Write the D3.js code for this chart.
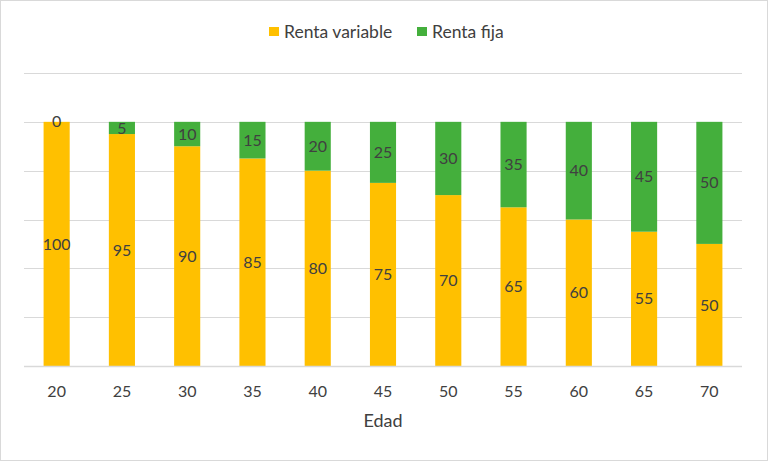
<!DOCTYPE html>
<html><head><meta charset="utf-8">
<script src="https://cdn.jsdelivr.net/npm/d3@7"></script>
<style>
html,body{margin:0;padding:0;background:#fff;}
svg{display:block;}
text{font-family:Lato,"Open Sans",sans-serif;fill:#404040;}
</style></head>
<body>
<script>
const categories = ["20","25","30","35","40","45","50","55","60","65","70"];
const rentaVariable = [100,95,90,85,80,75,70,65,60,55,50];
const rentaFija = [0,5,10,15,20,25,30,35,40,45,50];
const seriesNames = ["Renta variable","Renta fija"];
const seriesColors = ["#FFC000","#44AF3C"];
const yTicks = [0,20,40,60,80,100,120];
const xTitle = "Edad";

const W = 768, H = 461;
const svg = d3.select("body").append("svg").attr("width", W).attr("height", H);
svg.append("rect").attr("x",0.5).attr("y",0.5).attr("width",W-1).attr("height",H-1)
  .attr("fill","#fff").attr("stroke","#d9d9d9").attr("stroke-width",1);

const m = {left:24, right:26, top:73, bottom:95};
const x = d3.scaleBand().domain(categories).range([m.left, W-m.right]).paddingInner(0.6).paddingOuter(0.3);
const y = d3.scaleLinear().domain([0,120]).range([H-m.bottom, m.top]);

// gridlines
svg.append("g").selectAll("line").data(yTicks).join("line")
  .attr("x1", m.left).attr("x2", W-m.right)
  .attr("y1", d=>Math.round(y(d))+0.5).attr("y2", d=>Math.round(y(d))+0.5)
  .attr("stroke","#d9d9d9").attr("stroke-width",1);

const data = categories.map((c,i)=>({cat:c, v:rentaVariable[i], f:rentaFija[i]}));
const stack = d3.stack().keys(["v","f"])(data);

const g = svg.append("g");
stack.forEach((layer, li)=>{
  g.append("g").selectAll("rect").data(layer).join("rect")
    .attr("x", d=>x(d.data.cat)).attr("width", x.bandwidth())
    .attr("y", d=>y(d[1])).attr("height", d=>y(d[0])-y(d[1]))
    .attr("fill", seriesColors[li]);
});
// labels
stack.forEach((layer, li)=>{
  g.append("g").selectAll("text").data(layer).join("text")
    .attr("x", d=>x(d.data.cat)+x.bandwidth()/2)
    .attr("y", d=>(y(d[0])+y(d[1]))/2)
    .attr("dy","0.35em").attr("text-anchor","middle")
    .attr("font-size",16)
    .text(d=>d[1]-d[0]);
});

// x axis
const xAxis = d3.axisBottom(x).tickSize(0).tickPadding(20);
const ax = svg.append("g").attr("transform",`translate(0,${y(0)})`).call(xAxis);
ax.select(".domain").remove();
ax.selectAll("text").attr("font-size",16).attr("fill","#404040").style("font-family","Lato,'Open Sans',sans-serif");
svg.append("line").attr("x1",m.left).attr("x2",W-m.right)
  .attr("y1",Math.round(y(0))+0.5).attr("y2",Math.round(y(0))+0.5).attr("stroke","#d9d9d9").attr("stroke-width",1.5);

svg.append("text").attr("x",(m.left+W-m.right)/2).attr("y",427).attr("text-anchor","middle")
  .attr("font-size",18).text(xTitle);

// legend
const leg = svg.append("g");
const legX = [269, 417];
seriesNames.forEach((n,i)=>{
  leg.append("rect").attr("x",legX[i]).attr("y",27).attr("width",10).attr("height",9).attr("fill",seriesColors[i]);
  leg.append("text").attr("x",legX[i]+15).attr("y",31.5).attr("dy","0.35em").attr("font-size",17.5).text(n);
});
</script>
</body></html>
